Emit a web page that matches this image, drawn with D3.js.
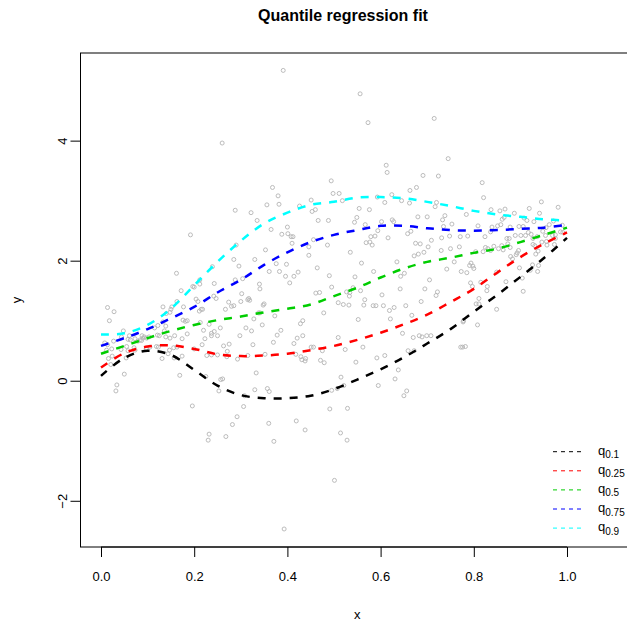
<!DOCTYPE html>
<html>
<head>
<meta charset="utf-8">
<script src="https://cdn.jsdelivr.net/npm/d3@7"></script>
<style>
  body { margin: 0; background: #fff; }
  svg { display: block; }
  text { font-family: "Liberation Sans", Arial, Helvetica, sans-serif; }
</style>
</head>
<body>
<div id="chart"></div>
<script>
const obs = [
  [0.391,5.17],[0.260,3.96],[0.494,3.33],[0.368,3.22],[0.498,3.12],[0.380,3.08],[0.451,3.01],[0.356,2.93],[0.382,2.94],[0.426,2.91],
  [0.288,2.84],[0.453,2.82],[0.460,2.85],[0.322,2.80],[0.335,2.67],[0.466,2.67],[0.488,2.67],[0.400,2.56],[0.365,2.52],
  [0.556,4.78],[0.573,4.30],[0.715,4.37],[0.745,3.70],[0.612,3.59],[0.614,3.47],[0.691,3.42],[0.724,3.41],[0.663,3.17],[0.677,3.22],
  [0.511,3.12],[0.593,3.06],[0.624,3.10],[0.518,3.00],[0.609,2.97],[0.645,3.00],[0.662,2.96],[0.720,2.97],[0.717,2.90],[0.554,2.87],
  [0.576,2.85],[0.549,2.72],[0.544,2.64],[0.567,2.60],[0.602,2.65],[0.625,2.68],[0.628,2.65],[0.680,2.73],[0.700,2.73],[0.738,2.75],
  [0.733,2.68],[0.735,2.57],[0.753,2.61],
  [0.818,3.30],[0.821,3.05],[0.945,2.98],[0.981,2.89],[0.784,2.77],[0.837,2.85],[0.856,2.83],[0.867,2.86],[0.887,2.79],[0.919,2.87],
  [0.941,2.79],[0.861,2.69],[0.865,2.72],[0.908,2.71],[0.914,2.67],[0.929,2.65],[0.971,2.66],[0.962,2.60],[0.809,2.58],[0.851,2.58],
  [0.858,2.60],[0.839,2.56],[0.878,2.56],[0.897,2.57],[0.906,2.57],[0.955,2.55],[0.990,2.59],
  [0.192,2.43],[0.162,1.79],[0.172,1.50],[0.197,1.57],[0.200,1.56],[0.212,1.61],[0.212,1.68],[0.239,1.90],[0.243,1.62],[0.242,1.41],
  [0.204,1.36],[0.208,1.32],[0.218,1.19],[0.215,1.19],[0.211,1.16],[0.163,1.32],[0.133,1.23],[0.150,1.19],[0.152,1.23],[0.177,1.23],
  [0.014,1.22],[0.028,1.15],[0.018,1.00],[0.148,1.14],[0.140,1.12],[0.176,1.01],[0.181,0.99],[0.185,1.00],[0.213,0.97],[0.232,0.94],
  [0.133,0.98],[0.122,0.92],[0.139,0.91],[0.115,0.88],[0.136,0.83],[0.220,0.84],[0.185,0.78],[0.237,0.79],[0.243,0.82],[0.048,0.83],
  [0.027,0.66],[0.044,0.73],[0.061,0.75],[0.063,0.68],[0.058,0.69],[0.088,0.75],[0.073,0.70],[0.079,0.66],[0.084,0.68],[0.087,0.67],
  [0.090,0.71],[0.093,0.73],[0.098,0.71],[0.103,0.73],[0.121,0.76],[0.125,0.75],[0.139,0.73],[0.148,0.71],[0.158,0.75],[0.174,0.70],
  [0.223,0.70],[0.237,0.75],[0.008,0.63],[0.014,0.60],[0.012,0.51],[0.023,0.53],[0.043,0.52],[0.055,0.57],[0.071,0.55],[0.073,0.51],
  [0.058,0.50],[0.097,0.54],[0.105,0.56],[0.119,0.57],[0.123,0.56],[0.156,0.55],[0.163,0.56],[0.147,0.51],[0.144,0.45],[0.157,0.38],
  [0.174,0.41],[0.227,0.42],[0.237,0.43],[0.200,0.53],[0.217,0.60],[0.016,0.37],[0.024,0.41],[0.054,0.38],[0.021,0.27],[0.131,0.37],
  [0.050,0.11],[0.169,0.09],[0.225,0.07],[0.034,-0.07],[0.032,-0.17],
  [0.388,2.44],[0.401,2.45],[0.408,2.40],[0.412,2.40],[0.410,2.29],[0.456,2.35],[0.486,2.26],[0.290,2.26],[0.353,2.18],[0.446,2.23],
  [0.446,2.09],[0.285,2.02],[0.330,2.02],[0.296,1.91],[0.376,1.95],[0.398,1.94],[0.361,1.82],[0.383,1.82],[0.423,1.81],[0.464,1.88],
  [0.396,1.74],[0.414,1.74],[0.490,1.75],[0.288,1.68],[0.304,1.70],[0.405,1.63],[0.340,1.61],[0.341,1.53],[0.495,1.56],[0.461,1.46],
  [0.469,1.47],[0.302,1.45],[0.247,1.37],[0.274,1.31],[0.300,1.32],[0.317,1.37],[0.319,1.34],[0.315,1.35],[0.280,1.24],[0.285,1.25],
  [0.267,1.19],[0.348,1.26],[0.350,1.28],[0.338,1.13],[0.341,1.13],[0.373,1.08],[0.478,1.13],[0.328,1.03],[0.433,1.00],[0.428,0.95],
  [0.256,0.88],[0.311,0.88],[0.323,0.83],[0.346,0.93],[0.386,0.84],[0.250,0.75],[0.298,0.75],[0.378,0.76],[0.433,0.75],[0.421,0.71],
  [0.370,0.64],[0.414,0.62],[0.275,0.61],[0.263,0.58],[0.326,0.60],[0.451,0.56],[0.456,0.56],[0.475,0.50],[0.271,0.49],[0.250,0.43],
  [0.270,0.40],[0.315,0.42],[0.352,0.44],[0.418,0.44],[0.293,0.36],[0.429,0.40],[0.439,0.37],[0.431,0.35],[0.438,0.33],[0.471,0.34],
  [0.479,0.30],[0.333,0.13],[0.261,0.03],[0.257,0.02],[0.253,-0.17],[0.330,-0.15],[0.357,-0.13],[0.361,-0.18],[0.308,-0.25],[0.495,-0.16],
  [0.658,2.45],[0.665,2.49],[0.579,2.40],[0.588,2.41],[0.569,2.30],[0.577,2.31],[0.582,2.26],[0.616,2.38],[0.594,2.50],[0.675,2.29],
  [0.685,2.28],[0.709,2.34],[0.731,2.38],[0.748,2.41],[0.750,2.20],[0.702,2.23],[0.693,2.14],[0.681,2.11],[0.672,2.08],[0.730,2.17],
  [0.535,2.14],[0.559,1.96],[0.635,1.98],[0.585,1.82],[0.651,1.79],[0.643,1.74],[0.742,1.86],[0.758,1.98],[0.545,1.73],[0.705,1.68],
  [0.541,1.55],[0.557,1.50],[0.527,1.48],[0.534,1.47],[0.533,1.41],[0.642,1.53],[0.695,1.53],[0.722,1.48],[0.719,1.42],[0.603,1.43],
  [0.566,1.35],[0.509,1.30],[0.520,1.27],[0.532,1.26],[0.564,1.26],[0.584,1.25],[0.590,1.25],[0.606,1.25],[0.629,1.22],[0.654,1.25],
  [0.687,1.32],[0.619,1.17],[0.667,1.09],[0.621,1.03],[0.552,1.02],[0.647,0.79],[0.509,0.72],[0.670,0.72],[0.683,0.75],[0.689,0.73],
  [0.699,0.75],[0.708,0.75],[0.562,0.56],[0.524,0.52],[0.659,0.50],[0.672,0.50],[0.592,0.38],[0.609,0.42],[0.547,0.31],[0.638,0.18],
  [0.515,0.06],[0.631,0.03],[0.521,-0.08],[0.507,-0.13],[0.595,-0.08],[0.656,-0.17],[0.650,-0.25],
  [0.771,2.40],[0.787,2.41],[0.824,2.40],[0.836,2.48],[0.871,2.37],[0.876,2.37],[0.889,2.42],[0.901,2.42],[0.911,2.42],[0.917,2.47],
  [0.923,2.44],[0.948,2.49],[0.954,2.42],[0.969,2.42],[0.975,2.43],[0.986,2.48],[0.991,2.47],[0.927,2.37],[0.936,2.40],[0.946,2.31],
  [0.956,2.32],[0.957,2.26],[0.975,2.37],[0.973,2.27],[0.927,2.27],[0.931,2.25],[0.769,2.23],[0.825,2.22],[0.830,2.20],[0.843,2.24],
  [0.836,2.17],[0.853,2.20],[0.860,2.25],[0.863,2.18],[0.820,2.15],[0.804,2.15],[0.873,2.28],[0.878,2.22],[0.896,2.17],[0.893,2.13],
  [0.891,2.10],[0.879,2.07],[0.883,2.03],[0.938,2.16],[0.933,2.11],[0.794,1.96],[0.798,1.91],[0.791,1.92],[0.800,1.87],[0.773,1.82],
  [0.785,1.80],[0.898,1.88],[0.926,1.93],[0.921,1.84],[0.937,1.82],[0.939,1.92],[0.849,1.81],[0.869,1.65],[0.904,1.71],[0.793,1.63],
  [0.797,1.57],[0.815,1.64],[0.829,1.57],[0.828,1.50],[0.906,1.49],[0.811,1.37],[0.805,1.28],[0.811,1.28],[0.849,1.19],[0.778,1.00],
  [0.777,0.98],[0.808,0.93],[0.772,0.56],[0.776,0.56],[0.782,0.57],
  [0.196,-0.42],[0.232,-0.89],[0.230,-0.99],[0.306,-0.43],[0.292,-0.60],[0.282,-0.73],[0.268,-0.93],[0.360,-0.71],[0.371,-1.01],
  [0.419,-0.67],[0.438,-0.82],[0.491,-0.47],[0.501,-1.66],[0.393,-2.47],[0.529,-0.46],[0.514,-0.87],[0.528,-0.99]
];

// fitted quantile curves, read at x = 0, 0.05, ..., 1
const gridX = [0, 0.05, 0.1, 0.15, 0.2, 0.25, 0.3, 0.35, 0.4, 0.45, 0.5, 0.55, 0.6, 0.65, 0.7, 0.75, 0.8, 0.85, 0.9, 0.95, 1.0];
const q10 = [0.08, 0.38, 0.50, 0.43, 0.18, -0.08, -0.24, -0.29, -0.29, -0.25, -0.14, 0.02, 0.19, 0.39, 0.62, 0.86, 1.15, 1.43, 1.73, 2.04, 2.38];
const q25 = [0.22, 0.46, 0.57, 0.59, 0.53, 0.44, 0.41, 0.42, 0.45, 0.51, 0.58, 0.68, 0.80, 0.94, 1.10, 1.31, 1.53, 1.80, 2.06, 2.28, 2.47];
const q50 = [0.45, 0.58, 0.71, 0.83, 0.93, 1.01, 1.07, 1.14, 1.20, 1.27, 1.41, 1.55, 1.72, 1.87, 1.98, 2.05, 2.13, 2.20, 2.31, 2.43, 2.55];
const q75 = [0.58, 0.71, 0.86, 1.04, 1.23, 1.47, 1.68, 1.93, 2.14, 2.31, 2.43, 2.51, 2.58, 2.58, 2.54, 2.51, 2.50, 2.51, 2.53, 2.55, 2.60];
const q90 = [0.77, 0.79, 0.93, 1.20, 1.59, 1.98, 2.33, 2.62, 2.80, 2.93, 2.98, 3.05, 3.06, 3.04, 2.98, 2.91, 2.83, 2.77, 2.73, 2.69, 2.67];

const tauLabels = ["0.1", "0.25", "0.5", "0.75", "0.9"];
const lineColors = ["black", "red", "#00cd00", "blue", "cyan"];
const xTicks = [0, 0.2, 0.4, 0.6, 0.8, 1.0];
const yTicks = [-2, 0, 2, 4];

const W = 627, H = 625;
const svg = d3.select("#chart").append("svg")
  .attr("width", W).attr("height", H)
  .attr("viewBox", `0 0 ${W} ${H}`);

const x = d3.scaleLinear().domain([-0.044, 1.144]).range([80.5, 634.1]);
const y = d3.scaleLinear().domain([-2.77, 5.46]).range([547, 53]);

// points
svg.append("g").selectAll("circle")
  .data(obs)
  .join("circle")
  .attr("cx", d => x(d[0]))
  .attr("cy", d => y(d[1]))
  .attr("r", 2)
  .attr("fill", "none")
  .attr("stroke", "#b4b4b4")
  .attr("stroke-width", 0.9);

// quantile curves
const series = [q10, q25, q50, q75, q90];
const line = d3.line()
  .x((d, i) => x(gridX[i]))
  .y(d => y(d))
  .curve(d3.curveCatmullRom.alpha(0.5));

series.forEach((s, i) => {
  svg.append("path")
    .datum(s)
    .attr("d", line)
    .attr("fill", "none")
    .attr("stroke", lineColors[i])
    .attr("stroke-width", 2.5)
    .attr("stroke-dasharray", "8,8");
});

// box
svg.append("rect")
  .attr("x", x.range()[0]).attr("y", y.range()[1])
  .attr("width", x.range()[1] - x.range()[0])
  .attr("height", y.range()[0] - y.range()[1])
  .attr("fill", "none").attr("stroke", "black").attr("stroke-width", 1);

// axes
const xAxis = svg.append("g")
  .attr("transform", `translate(0,${y.range()[0]})`)
  .call(d3.axisBottom(x).tickValues(xTicks).tickFormat(d3.format(".1f"))
    .tickSize(10).tickSizeOuter(0).tickPadding(15));
xAxis.select(".domain").remove();
xAxis.selectAll("text").attr("font-size", 13).attr("fill", "black");
xAxis.append("line")
  .attr("x1", x(xTicks[0])).attr("x2", x(xTicks[xTicks.length - 1]))
  .attr("stroke", "black");

const yAxis = svg.append("g")
  .attr("transform", `translate(${x.range()[0]},0)`)
  .call(d3.axisLeft(y).tickValues(yTicks).tickSize(10).tickSizeOuter(0));
yAxis.select(".domain").remove();
yAxis.selectAll("text")
  .attr("font-size", 13).attr("fill", "black")
  .attr("x", null).attr("dy", "0.35em")
  .attr("text-anchor", "middle")
  .attr("transform", "translate(-18.5,0) rotate(-90)");
yAxis.append("line")
  .attr("y1", y(yTicks[0])).attr("y2", y(yTicks[yTicks.length - 1]))
  .attr("stroke", "black");

// titles
svg.append("text")
  .attr("x", 343).attr("y", 21)
  .attr("text-anchor", "middle")
  .attr("font-size", 16).attr("font-weight", "bold")
  .text("Quantile regression fit");
svg.append("text")
  .attr("x", (x.range()[0] + x.range()[1]) / 2).attr("y", 619)
  .attr("text-anchor", "middle").attr("font-size", 13)
  .text("x");
svg.append("text")
  .attr("transform", `translate(21,${(y.range()[0] + y.range()[1]) / 2}) rotate(-90)`)
  .attr("text-anchor", "middle").attr("font-size", 13)
  .text("y");

// legend
const legend = svg.append("g").attr("transform", "translate(553,451.7)");
tauLabels.forEach((t, i) => {
  const row = legend.append("g").attr("transform", `translate(0,${i * 19.1})`);
  row.append("line")
    .attr("x1", 0).attr("x2", 28)
    .attr("stroke", lineColors[i]).attr("stroke-width", 1)
    .attr("stroke-dasharray", "4,4");
  const label = row.append("text").attr("x", 45).attr("y", 3).attr("font-size", 13);
  label.append("tspan").text("q");
  label.append("tspan").attr("dy", 3.5).attr("font-size", 10).text(t);
});
</script>
</body>
</html>
